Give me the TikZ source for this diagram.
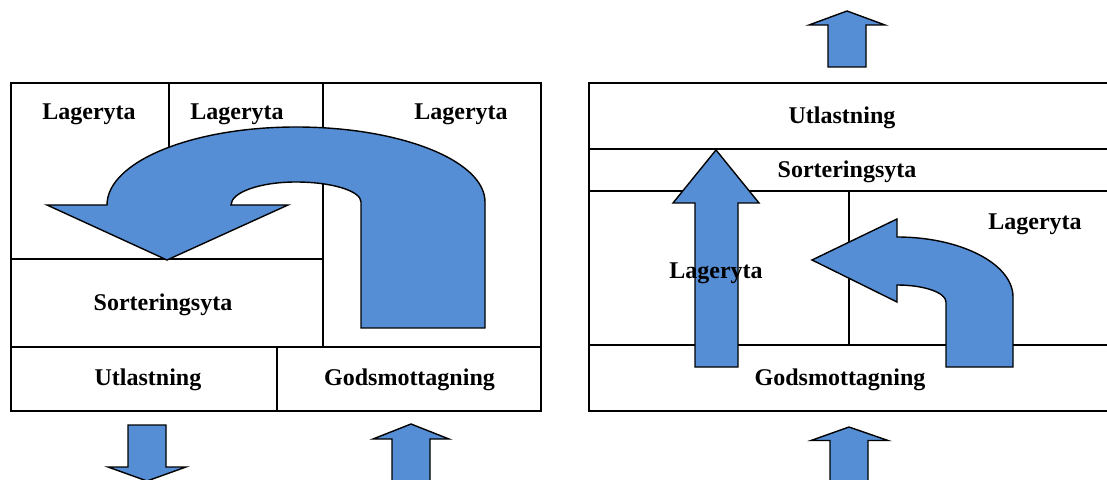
\documentclass[tikz,border=0pt]{standalone}
\usepackage{fontspec}
\setmainfont{Liberation Serif}
\definecolor{arrowblue}{HTML}{558ED5}
\tikzset{
  px/.style={x=0.5pt,y=-0.5pt},
  outer/.style={draw=black,line width=1pt},
  divider/.style={draw=black,line width=0.75pt},
  blockarrow/.style={fill=arrowblue,draw=black,line width=0.7pt,line join=miter},
  lbl/.style={anchor=base,inner sep=0pt,font=\fontsize{12}{14}\selectfont\bfseries}
}
\begin{document}
\begin{tikzpicture}[px]
\useasboundingbox (0,0) rectangle (1107,480);
\clip (0,0) rectangle (1107,480);
% ---------- left panel ----------
\draw[divider] (169,83) -- (169,259);
\draw[divider] (323,83) -- (323,347);
\draw[divider] (11,259) -- (323,259);
\draw[divider] (11,347) -- (541,347);
\draw[divider] (277,347) -- (277,411);
\draw[outer] (11,83) rectangle (541,411);
% U-turn arrow
\draw[blockarrow] (361,328) -- (361,202)
  .. controls (361,191) and (332,182) .. (296,182)
  .. controls (260,182) and (231,192.3) .. (231,205)
  -- (288,205) -- (167,260) -- (47,205) -- (107,205)
  .. controls (107,161.9) and (191.6,127) .. (296,127)
  .. controls (400.4,127) and (485,160.6) .. (485,202)
  -- (485,328) -- cycle;
% ---------- right panel ----------
\draw[divider] (589,149) -- (1120,149);
\draw[divider] (589,191) -- (1120,191);
\draw[divider] (849,191) -- (849,345);
\draw[divider] (589,345) -- (1120,345);
\draw[outer] (589,83) rectangle (1120,411);
% straight up arrow
\draw[blockarrow] (695,367) -- (695,203) -- (673,203) -- (716,150) -- (759,203) -- (738,203) -- (738,367) -- cycle;
% bent arrow
\draw[blockarrow] (946,367) -- (946,302)
  .. controls (946,292.6) and (924,285) .. (897,285)
  -- (897,302) -- (812,260) -- (897,219) -- (897,237)
  .. controls (961,237) and (1013,264) .. (1013,297)
  -- (1013,367) -- cycle;
% ---------- small block arrows ----------
\draw[blockarrow] (828,67) -- (828,25) -- (809,25) -- (847,11) -- (885,25) -- (866,25) -- (866,67) -- cycle;
\draw[blockarrow] (830,495) -- (830,440.5) -- (811,440.5) -- (849,427) -- (888,440.5) -- (868,440.5) -- (868,495) -- cycle;
\draw[blockarrow] (392,495) -- (392,439) -- (373,439) -- (411,424) -- (449,439) -- (430,439) -- (430,495) -- cycle;
\draw[blockarrow] (128,425) -- (166,425) -- (166,467) -- (186,467) -- (147,481) -- (108,467) -- (128,467) -- cycle;
% ---------- labels ----------
\node[lbl] (l1) at (89,119.3) {Lageryta};
\node[lbl] (l2) at (237,119.3) {Lageryta};
\node[lbl] (l3) at (461,119.3) {Lageryta};
\node[lbl] (ls) at (163,311) {Sorteringsyta};
\node[lbl] (lu) at (148,385.5) {Utlastning};
\node[lbl] (lg) at (409.5,385.5) {Godsmottagning};
\node[lbl] (ru) at (842,124) {Utlastning};
\node[lbl] (rs) at (847,177.5) {Sorteringsyta};
\node[lbl] (rl1) at (716,279) {Lageryta};
\node[lbl] (rl2) at (1035,230) {Lageryta};
\node[lbl] (rg) at (840,385.5) {Godsmottagning};
\end{tikzpicture}
\end{document}
